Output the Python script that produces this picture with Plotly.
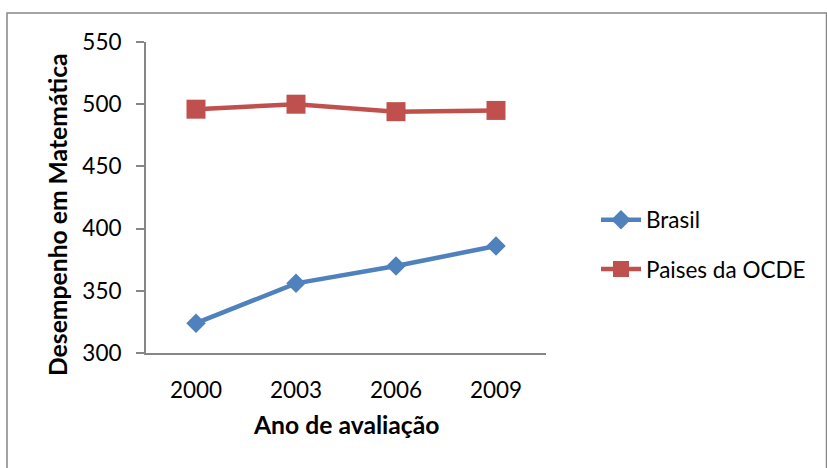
import plotly.graph_objects as go

# Data
anos = ["2000", "2003", "2006", "2009"]
brasil = [324, 356, 370, 386]
ocde = [496, 500, 494, 495]
y_ticks = [300, 350, 400, 450, 500, 550]

W, H = 827, 468
L, R, T, B = 146, 281, 42, 115  # plot area margins (px)
pw, ph = W - L - R, H - T - B

def px_x(x):
    return (x - L) / pw

def px_y(y):
    return (H - B - y) / ph

FONT = "Lato, 'Open Sans', sans-serif"
AXIS_GRAY = "#868686"
BLUE = "#4F81BD"
RED = "#C0504D"

fig = go.Figure()
fig.add_trace(go.Scatter(
    x=anos, y=brasil, name="Brasil", mode="lines+markers", legendgroup="br",
    line=dict(color=BLUE, width=4.5),
    marker=dict(symbol="diamond", size=15, color=BLUE),
))
fig.add_trace(go.Scatter(
    x=anos, y=ocde, name="Paises da OCDE", mode="lines+markers", legendgroup="oc",
    line=dict(color=RED, width=4.5),
    marker=dict(symbol="square", size=19, color=RED),
))

fig.update_layout(
    width=W, height=H,
    margin=dict(l=L, r=R, t=T, b=B, pad=0),
    paper_bgcolor="white", plot_bgcolor="white",
    font=dict(family=FONT, size=22.5, color="#000000"),
    showlegend=True,
    legend=dict(
        x=px_x(596), y=px_y(244.5), xanchor="left", yanchor="middle",
        font=dict(size=22.5), tracegroupgap=17, itemwidth=40,
        bgcolor="rgba(0,0,0,0)",
    ),
    xaxis=dict(
        type="category", range=[-0.5, 3.5],
        showline=True, linecolor=AXIS_GRAY, linewidth=2,
        ticks="", showgrid=False, zeroline=False,
        ticklabelstandoff=16,
        tickfont=dict(size=22.5),
    ),
    yaxis=dict(
        range=[300, 550], tickvals=y_ticks,
        showline=True, linecolor=AXIS_GRAY, linewidth=2,
        ticks="outside", ticklen=8, tickwidth=2, tickcolor=AXIS_GRAY,
        showgrid=False, zeroline=False,
        ticklabelstandoff=10,
        tickfont=dict(size=22.5),
    ),
    shapes=[dict(
        type="rect", xref="paper", yref="paper",
        x0=px_x(7), x1=px_x(826.5), y0=px_y(13), y1=px_y(480),
        line=dict(color=AXIS_GRAY, width=1.5), fillcolor="rgba(0,0,0,0)",
        layer="below",
    )],
    annotations=[
        dict(text="<b>Ano de avaliação</b>", xref="paper", yref="paper",
             x=px_x(346), y=px_y(425), showarrow=False,
             xanchor="center", yanchor="middle", font=dict(size=24.7)),
        dict(text="<b>Desempenho em Matemática</b>", xref="paper", yref="paper",
             x=px_x(57), y=px_y(215), showarrow=False, textangle=-90,
             xanchor="center", yanchor="middle", font=dict(size=24.7)),
    ],
)

fig.write_html("out.html")
